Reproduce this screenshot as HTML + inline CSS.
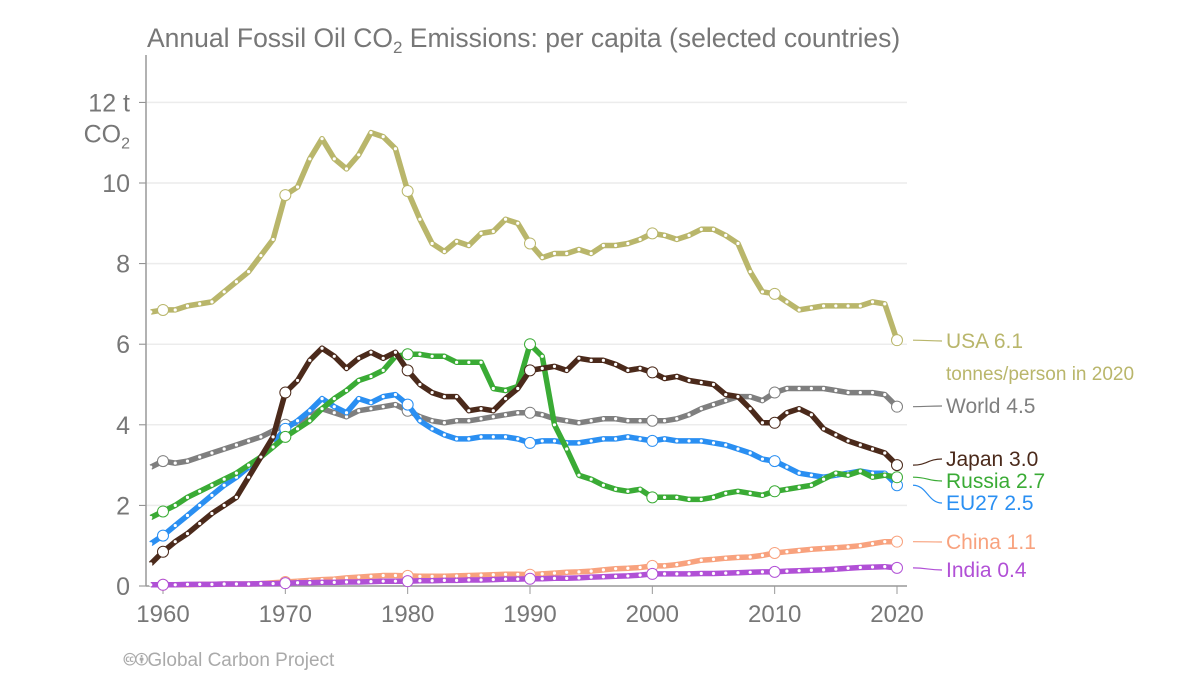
<!DOCTYPE html>
<html><head><meta charset="utf-8"><style>
body{margin:0;background:#fff;font-family:"Liberation Sans",sans-serif}
svg text{font-family:"Liberation Sans",sans-serif}
</style></head><body>
<svg id="c" width="1200" height="675">
<text x="147" y="47" font-size="26.5" fill="#777">Annual Fossil Oil CO<tspan font-size="17" dy="6">2</tspan><tspan dy="-6"> Emissions: per capita (selected countries)</tspan></text>
<g id="grid"></g><g id="series"></g><g id="labels"></g>
<text x="124" y="666" font-size="19" fill="#aaa">🅭🅯Global Carbon Project</text>
</svg>
<script>
const years=[];for(let y=1959;y<=2020;y++)years.push(y);
const usa=[6.8,6.85,6.85,6.95,7.0,7.05,7.3,7.55,7.8,8.2,8.6,9.7,9.9,10.6,11.1,10.6,10.35,10.7,11.25,11.15,10.85,9.8,9.1,8.5,8.3,8.55,8.45,8.75,8.8,9.1,9.0,8.5,8.15,8.25,8.25,8.35,8.25,8.45,8.45,8.5,8.6,8.75,8.7,8.6,8.7,8.85,8.85,8.7,8.5,7.8,7.3,7.25,7.05,6.85,6.9,6.95,6.95,6.95,6.95,7.05,7.0,6.1];
const world=[2.95,3.1,3.05,3.1,3.2,3.3,3.4,3.5,3.6,3.7,3.85,4.0,4.05,4.2,4.4,4.3,4.2,4.35,4.4,4.45,4.5,4.35,4.2,4.1,4.05,4.1,4.1,4.15,4.2,4.25,4.3,4.3,4.25,4.15,4.1,4.05,4.1,4.15,4.15,4.1,4.1,4.1,4.1,4.15,4.25,4.4,4.5,4.6,4.7,4.7,4.6,4.8,4.9,4.9,4.9,4.9,4.85,4.8,4.8,4.8,4.75,4.45];
const japan=[0.55,0.85,1.1,1.3,1.55,1.8,2.0,2.2,2.7,3.2,3.7,4.8,5.1,5.6,5.9,5.7,5.4,5.65,5.8,5.65,5.8,5.35,5.0,4.8,4.7,4.7,4.35,4.4,4.35,4.65,4.9,5.35,5.4,5.45,5.35,5.65,5.6,5.6,5.5,5.35,5.4,5.3,5.15,5.2,5.1,5.05,5.0,4.75,4.7,4.4,4.05,4.05,4.3,4.4,4.25,3.9,3.75,3.6,3.5,3.4,3.3,3.0];
const russia=[1.7,1.85,2.0,2.2,2.35,2.5,2.65,2.8,3.0,3.2,3.45,3.7,3.9,4.1,4.4,4.65,4.85,5.1,5.2,5.35,5.7,5.75,5.75,5.7,5.7,5.55,5.55,5.55,4.9,4.85,4.95,6.0,5.7,4.0,3.4,2.75,2.65,2.5,2.4,2.35,2.4,2.2,2.2,2.2,2.15,2.15,2.2,2.3,2.35,2.3,2.25,2.35,2.4,2.45,2.5,2.65,2.8,2.75,2.85,2.7,2.75,2.7];
const eu27=[1.05,1.25,1.5,1.75,2.0,2.25,2.5,2.7,2.95,3.2,3.55,3.9,4.1,4.35,4.65,4.45,4.3,4.65,4.55,4.7,4.75,4.5,4.1,3.9,3.75,3.65,3.65,3.7,3.7,3.7,3.65,3.55,3.6,3.6,3.55,3.55,3.6,3.65,3.65,3.7,3.65,3.6,3.65,3.6,3.6,3.6,3.55,3.5,3.4,3.3,3.15,3.1,2.95,2.8,2.75,2.7,2.75,2.8,2.85,2.8,2.8,2.5];
const china=[0.03,0.03,0.03,0.03,0.04,0.04,0.05,0.05,0.05,0.06,0.08,0.1,0.12,0.14,0.16,0.17,0.2,0.22,0.24,0.26,0.26,0.25,0.24,0.24,0.24,0.25,0.26,0.27,0.28,0.29,0.29,0.28,0.3,0.32,0.34,0.35,0.37,0.4,0.43,0.44,0.46,0.5,0.5,0.53,0.58,0.64,0.66,0.69,0.71,0.72,0.76,0.82,0.85,0.88,0.91,0.93,0.95,0.97,1.0,1.05,1.1,1.1];
const india=[0.03,0.03,0.03,0.04,0.04,0.04,0.05,0.05,0.05,0.06,0.06,0.07,0.08,0.08,0.09,0.09,0.1,0.1,0.11,0.12,0.12,0.12,0.13,0.13,0.14,0.14,0.15,0.15,0.16,0.17,0.17,0.18,0.18,0.19,0.19,0.2,0.22,0.23,0.24,0.25,0.27,0.3,0.3,0.3,0.3,0.31,0.31,0.32,0.33,0.34,0.35,0.35,0.37,0.38,0.39,0.4,0.42,0.44,0.46,0.47,0.48,0.45];
const yTicks=[0,2,4,6,8,10,12];
const xTicks=[1960,1970,1980,1990,2000,2010,2020];
const seriesList=[
 {name:'usa',vals:usa,color:'#b9b66b',label:'USA 6.1',ly:348},
 {name:'world',vals:world,color:'#7f7f7f',label:'World 4.5',ly:413},
 {name:'china',vals:china,color:'#f8a27e',label:'China 1.1',ly:549},
 {name:'india',vals:india,color:'#b150d6',label:'India 0.4',ly:577},
 {name:'eu27',vals:eu27,color:'#2a8ff2',label:'EU27 2.5',ly:510},
 {name:'russia',vals:russia,color:'#3aab35',label:'Russia 2.7',ly:488},
 {name:'japan',vals:japan,color:'#4b2a1b',label:'Japan 3.0',ly:466}];
const X=y=>163+(y-1960)*734/60;
const Y=v=>586-v*40.3;
const NS='http://www.w3.org/2000/svg';
function mk(tag,attrs,parent){const e=document.createElementNS(NS,tag);for(const k in attrs)e.setAttribute(k,attrs[k]);parent.appendChild(e);return e;}
const grid=document.getElementById('grid'),sg=document.getElementById('series'),lg=document.getElementById('labels');
yTicks.forEach(t=>{
 if(t>0){const l=mk('line',{x1:146,x2:907,y1:Y(t),y2:Y(t),stroke:'#ececec','stroke-width':1.5},grid);
 
 }
 const tk=mk('line',{x1:139,x2:146,y1:Y(t),y2:Y(t),stroke:'#888'},grid);
 
 
 const tx=mk('text',{x:130,y:Y(t)+9,'font-size':25,fill:'#777','text-anchor':'end'},grid);
 tx.textContent=t==12?'12 t':String(t);
 
 
});
const unit=mk('text',{x:130,y:Y(12)+40,'font-size':25,fill:'#777','text-anchor':'end'},grid);
unit.innerHTML='CO<tspan font-size="16" dy="6">2</tspan>';


const ya=mk('line',{x1:146,x2:146,y1:55,y2:586,stroke:'#999','stroke-width':1.5},grid);


const xa=mk('line',{x1:146,x2:907,y1:586,y2:586,stroke:'#999','stroke-width':1.5},grid);


xTicks.forEach(t=>{
 const tk=mk('line',{x1:X(t),x2:X(t),y1:586,y2:594,stroke:'#999'},grid);
 
 
 const tx=mk('text',{x:X(t),y:622,'font-size':24,fill:'#777','text-anchor':'middle'},grid);
 tx.textContent=String(t);
 
 
});
seriesList.forEach(s=>{
 const g=mk('g',{},sg);
 
 
 const pts=s.vals.map((v,i)=>X(years[i]).toFixed(1)+','+Y(v).toFixed(1)).join(' ');
 const pl=mk('polyline',{points:pts,fill:'none',stroke:s.color,'stroke-width':5.5,'stroke-linejoin':'round'},g);
 
 
 s.vals.forEach((v,i)=>{
  const yr=years[i];const big=yr%10==0;
  const c=mk('circle',{cx:X(yr),cy:Y(v),r:big?5.5:1.6,fill:'#fff',stroke:big?s.color:'none','stroke-width':1},g);
  
  
 });
 const vy=Y(s.vals[s.vals.length-1]);
 const cn=mk('path',{d:`M913,${vy} C927,${vy} 928,${s.ly-7} 942,${s.ly-7}`,fill:'none',stroke:s.color,'stroke-width':1.2},lg);
 
 
 const t=mk('text',{x:946,y:s.ly,'font-size':21,fill:s.color},lg);
 t.textContent=s.label;
 
 
});
const note=mk('text',{x:946,y:380,'font-size':19,fill:'#b9b66b'},lg);
note.textContent='tonnes/person in 2020';


</script>
</body></html>
